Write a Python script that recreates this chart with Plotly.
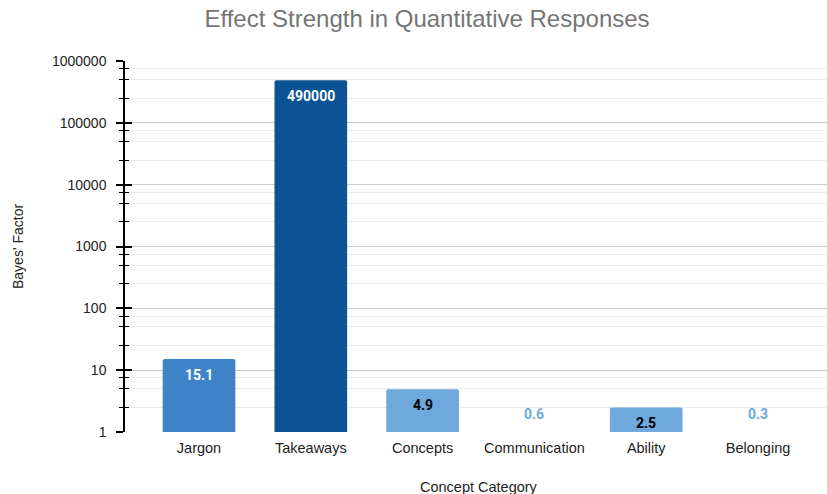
import plotly.graph_objects as go
import math

categories = ["Jargon", "Takeaways", "Concepts", "Communication", "Ability", "Belonging"]
bayes_factor = [15.1, 490000, 4.9, 0.6, 2.5, 0.3]
bar_colors = ["#3D85C8", "#0B5394", "#6FA8DC", "#6FA8DC", "#6FA8DC", "#6FA8DC"]
label_colors = ["#FFFFFF", "#FFFFFF", "#000000", "#6FA8DC", "#000000", "#6FA8DC"]
major_ticks = [1, 10, 100, 1000, 10000, 100000, 1000000]
major_labels = ["1", "10", "100", "1000", "10000", "100000", "1000000"]
minor_ticks = [m * 10 ** e for e in range(0, 6) for m in (2.5, 5, 7.5)]

FONT = "Liberation Sans, Arial, sans-serif"
LABEL_FONT = "Roboto, Arial, sans-serif"

fig = go.Figure()

vis_y = [v if v >= 1 else None for v in bayes_factor]

fig.add_trace(go.Bar(
    x=categories, y=vis_y,
    marker=dict(color=bar_colors, line=dict(width=0), cornerradius=2),
    width=0.65, showlegend=False, hoverinfo="x+y",
))

fig.add_trace(go.Scatter(x=categories, y=[None] * len(categories), yaxis="y2",
                         showlegend=False, hoverinfo="skip"))

annotations = []
for c, v, col in zip(categories, bayes_factor, label_colors):
    if v >= 1:
        ypos, shift = math.log10(v), -16
    else:
        ypos, shift = 0, 18
    annotations.append(dict(x=c, y=ypos, xref="x", yref="y", text=f"<b>{v:g}</b>",
                            showarrow=False, yshift=shift, yanchor="middle",
                            font=dict(family=LABEL_FONT, size=14, color=col)))

W, H = 827, 494
L, R, T, B = 125, 0, 61, 62
pw, ph = W - L - R, H - T - B
annotations.append(dict(text="Concept Category", x=(479 - L) / pw, y=(H - B - 487) / ph,
                        xref="paper", yref="paper", xanchor="center", yanchor="middle",
                        showarrow=False, font=dict(family=FONT, size=14.5, color="#222222")))
annotations.append(dict(text="Bayes' Factor", x=(18 - L) / pw, y=(H - B - 247) / ph,
                        xref="paper", yref="paper", xanchor="center", yanchor="middle",
                        showarrow=False, textangle=-90,
                        font=dict(family=FONT, size=14, color="#222222")))

fig.update_layout(
    width=W, height=H,
    margin=dict(l=L, r=R, t=T, b=B, autoexpand=False),
    paper_bgcolor="white", plot_bgcolor="white",
    title=dict(text="Effect Strength in Quantitative Responses", x=427 / W, xanchor="center",
               y=1 - 19 / H, yanchor="middle",
               font=dict(family=FONT, size=24, color="#757575")),
    xaxis=dict(range=[-0.662, 5.617], showgrid=False, showline=False, ticks="",
               automargin=False, ticklabelstandoff=5,
               tickfont=dict(family=FONT, size=14.5, color="#222222")),
    yaxis=dict(type="log", range=[0, 6], tickvals=major_ticks, ticktext=major_labels,
               automargin=False,
               showgrid=True, gridcolor="#CCCCCC", gridwidth=1,
               showline=True, linecolor="#000000", linewidth=1.5,
               ticks="outside", ticklen=7, tickcolor="#000000", tickwidth=1.5,
               ticklabelstandoff=7,
               tickfont=dict(family=FONT, size=14, color="#222222"),
               minor=dict(tickvals=minor_ticks, showgrid=True, gridcolor="#EBEBEB",
                          ticks="outside", ticklen=4, tickcolor="#000000", tickwidth=1.2),
               zeroline=False),
    yaxis2=dict(type="log", range=[0, 6], overlaying="y", side="left", automargin=False,
                tickvals=major_ticks, showticklabels=False, showgrid=False,
                ticks="inside", ticklen=7, tickcolor="#000000", tickwidth=1.5,
                minor=dict(tickvals=minor_ticks, showgrid=False, ticks="inside",
                           ticklen=4, tickcolor="#000000", tickwidth=1.2),
                showline=False, zeroline=False),
    annotations=annotations,
)

fig.write_html("out.html", config={"displayModeBar": False},
               post_script="document.body.style.margin='0';document.body.style.overflow='hidden';")
